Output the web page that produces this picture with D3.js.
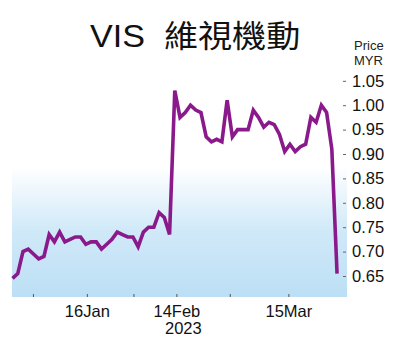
<!DOCTYPE html>
<html>
<head>
<meta charset="utf-8">
<script src="https://cdn.jsdelivr.net/npm/d3@7"></script>
<style>
  body { margin: 0; background: #fff; }
  svg { display: block; }
</style>
</head>
<body>
<div id="chart"></div>
<script>
// daily closing price, one value per trading day
const prices = [
  0.645, 0.655, 0.700, 0.705, 0.695, 0.685, 0.690, 0.735, 0.720, 0.740,
  0.720, 0.725, 0.730, 0.730, 0.715, 0.720, 0.720, 0.705, 0.715, 0.725,
  0.740, 0.735, 0.730, 0.730, 0.710, 0.740, 0.750, 0.750, 0.780, 0.770,
  0.735, 1.030, 0.975, 0.985, 1.000, 0.990, 0.985, 0.935, 0.925, 0.930,
  0.925, 1.010, 0.935, 0.950, 0.950, 0.950, 0.990, 0.975, 0.955, 0.965,
  0.960, 0.940, 0.905, 0.920, 0.905, 0.915, 0.920, 0.975, 0.965, 1.000,
  0.985, 0.910, 0.655
];
const xTickPos = [3.9, 14.2, 23.1, 31.3, 41.5, 52.7];
const xTickLabels = ["", "16Jan", "", "14Feb", "", "15Mar"];
const yearLabel = "2023";
const yTicks = [0.65, 0.7, 0.75, 0.8, 0.85, 0.9, 0.95, 1.0, 1.05];

const width = 400;
const height = 342;
const plot = { l: 12, r: 347, t: 60, b: 297 };
const font = "'Liberation Sans', Arial, sans-serif";

const svg = d3
  .select("#chart")
  .append("svg")
  .attr("width", width)
  .attr("height", height);

const x = d3.scaleLinear().domain([-0.1, 63.9]).range([plot.l, plot.r]);
const y = d3.scaleLinear().domain([0.65, 1.05]).range([276, 80.8]);

// background gradient
const grad = svg
  .append("defs")
  .append("linearGradient")
  .attr("id", "bg")
  .attr("x1", 0)
  .attr("y1", 0)
  .attr("x2", 0)
  .attr("y2", 1);
grad.append("stop").attr("offset", "0%").attr("stop-color", "#ffffff");
grad.append("stop").attr("offset", "45%").attr("stop-color", "#ffffff");
grad.append("stop").attr("offset", "72%").attr("stop-color", "#d0e9f8");
grad.append("stop").attr("offset", "100%").attr("stop-color", "#bcdff5");

svg
  .append("rect")
  .attr("x", plot.l)
  .attr("y", plot.t)
  .attr("width", plot.r - plot.l)
  .attr("height", plot.b - plot.t)
  .attr("fill", "url(#bg)");

// title
svg
  .append("text")
  .attr("transform", "translate(90,47) scale(1.1,1)")
  .style("white-space", "pre")
  .attr("font-family", "'Liberation Sans', 'Noto Sans CJK TC', sans-serif")
  .attr("font-size", "31px")
  .attr("fill", "#111")
  .text("VIS  維視機動");

svg
  .append("text")
  .attr("x", 354)
  .attr("y", 50)
  .attr("font-family", font)
  .attr("font-size", "13px")
  .attr("fill", "#222")
  .text("Price");
svg
  .append("text")
  .attr("x", 354)
  .attr("y", 65)
  .attr("font-family", font)
  .attr("font-size", "13px")
  .attr("fill", "#222")
  .text("MYR");

// y axis on the right
const yAxis = svg
  .append("g")
  .attr("transform", `translate(343,0)`)
  .call(
    d3
      .axisRight(y)
      .tickValues(yTicks)
      .tickFormat(d3.format(".2f"))
      .tickSize(3)
      .tickPadding(6)
  );
yAxis.select(".domain").remove();
yAxis.selectAll("line").attr("stroke", "#666");
yAxis
  .selectAll("text")
  .attr("font-family", font)
  .attr("font-size", "16.5px")
  .attr("fill", "#111");

// x axis
const xAxis = svg
  .append("g")
  .attr("transform", `translate(0,294)`)
  .call(
    d3
      .axisBottom(x)
      .tickValues(xTickPos)
      .tickFormat((d, i) => xTickLabels[i])
      .tickSize(3)
      .tickPadding(8)
  );
xAxis.select(".domain").remove();
xAxis.selectAll("line").attr("stroke", "#555");
xAxis
  .selectAll("text")
  .attr("font-family", font)
  .attr("font-size", "16.5px")
  .attr("fill", "#111");

svg
  .append("text")
  .attr("x", x(xTickPos[3]) + 7)
  .attr("y", 334)
  .attr("text-anchor", "middle")
  .attr("font-family", font)
  .attr("font-size", "16.5px")
  .attr("fill", "#111")
  .text(yearLabel);

// price line
const line = d3
  .line()
  .x((d, i) => x(i))
  .y((d) => y(d));

svg
  .append("path")
  .datum(prices)
  .attr("d", line)
  .attr("fill", "none")
  .attr("stroke", "#8a1a8c")
  .attr("stroke-width", 3.6)
  .attr("stroke-linejoin", "miter");
</script>
</body>
</html>
